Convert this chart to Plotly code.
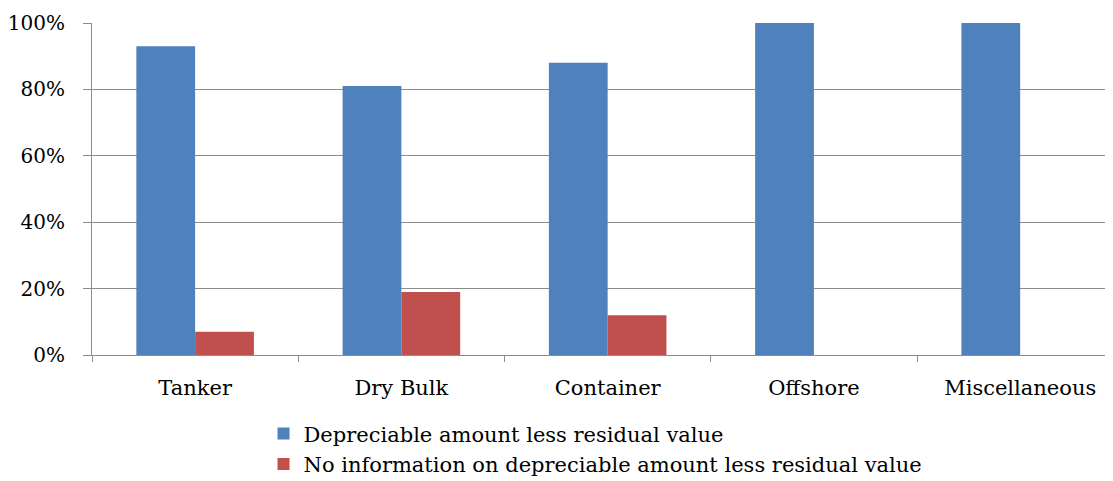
import plotly.graph_objects as go

categories = ["Tanker", "Dry Bulk", "Container", "Offshore", "Miscellaneous"]
depreciable = [93, 81, 88, 100, 100]
no_info = [7, 19, 12, 0, 0]

font_family = "DejaVu Serif"
grid_color = "#8c8c8c"

fig = go.Figure()

fig.add_trace(go.Bar(
    x=categories, y=depreciable,
    name="Depreciable amount less residual value",
    marker=dict(color="#4F81BD", line=dict(width=0)),
))
fig.add_trace(go.Bar(
    x=categories, y=no_info,
    name="No information on depreciable amount less residual value",
    marker=dict(color="#C0504D", line=dict(width=0)),
))

# page body adds an 8px margin, so the figure is sized 8px smaller
fig.update_layout(
    width=1105,
    height=473,
    barmode="group",
    bargap=0.43,
    bargroupgap=0,
    plot_bgcolor="white",
    paper_bgcolor="white",
    margin=dict(l=84, r=0, t=15, b=126, autoexpand=False),
    font=dict(family=font_family, size=20, color="black"),
    showlegend=True,
    legend=dict(
        orientation="v",
        x=0.168, xanchor="left",
        y=-0.176, yanchor="top",
        font=dict(family=font_family, size=21),
        itemwidth=30,
        tracegroupgap=0,
    ),
    xaxis=dict(
        range=[-0.5, 4.45],
        showline=True, linecolor=grid_color, linewidth=1,
        ticks="outside", tickson="boundaries", ticklen=6, tickcolor=grid_color,
        showgrid=False, automargin=False,
        ticklabelstandoff=14,
        tickfont=dict(family=font_family, size=21),
    ),
    yaxis=dict(
        range=[0, 100],
        tickvals=[0, 20, 40, 60, 80, 100],
        ticktext=["0%", "20%", "40%", "60%", "80%", "100%"],
        showline=True, linecolor=grid_color, linewidth=1,
        showgrid=True, gridcolor=grid_color, gridwidth=1,
        ticks="outside", ticklen=8, tickcolor=grid_color,
        zeroline=False, automargin=False,
        ticklabelstandoff=14,
        tickfont=dict(family=font_family, size=20),
    ),
)

fig.write_html("out.html")
